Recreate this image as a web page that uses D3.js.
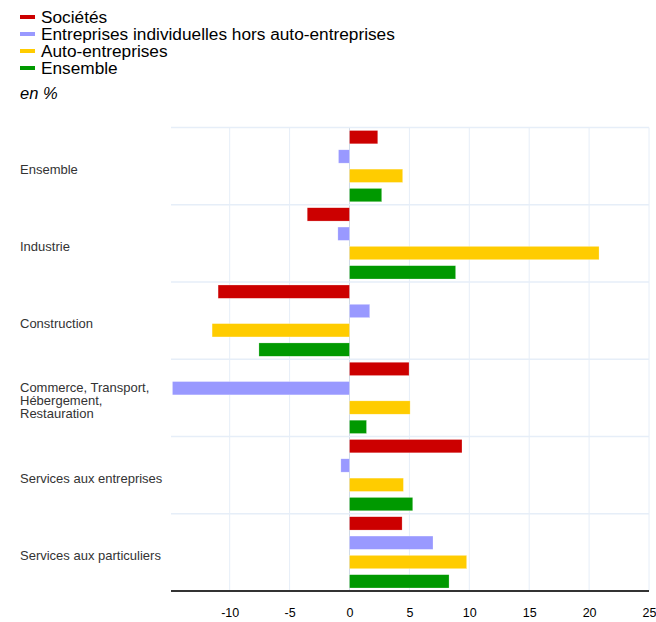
<!DOCTYPE html>
<html><head><meta charset="utf-8">
<script src="https://cdn.jsdelivr.net/npm/d3@7"></script>
<style>body{margin:0;background:#fff;font-family:"Liberation Sans",Arial,sans-serif;}</style>
</head><body>
<svg id="c" width="656" height="622"></svg>
<script>
const categories = [["Ensemble"],["Industrie"],["Construction"],["Commerce, Transport,","Hébergement,","Restauration"],["Services aux entreprises"],["Services aux particuliers"]];
const seriesNames = ["Sociétés","Entreprises individuelles hors auto-entreprises","Auto-entreprises","Ensemble"];
const seriesColors = ["#cc0000","#9999ff","#ffcc00","#009900"];
const societes = [2.36, -3.53, -10.97, 4.97, 9.39, 4.39];
const entIndiv = [-0.92, -0.97, 1.69, -14.78, -0.72, 6.97];
const autoEnt = [4.44, 20.83, -11.47, 5.06, 4.5, 9.78];
const ensemble = [2.69, 8.86, -7.56, 1.42, 5.28, 8.31];
const xTicks = [-10, -5, 0, 5, 10, 15, 20, 25];
const unitLabel = "en %";

const series = [societes, entIndiv, autoEnt, ensemble];
const svg = d3.select("#c");
const pL = 171, pR = 649, pT = 127.5, pB = 591;
const x = d3.scaleLinear().domain([-14.9, 25]).range([pL, pR]);
const y0 = d3.scaleBand().domain(d3.range(categories.length)).range([pT, pB]);
const y1 = d3.scaleBand().domain(d3.range(series.length)).range([0, y0.bandwidth()]).paddingInner(0.31).paddingOuter(0.155);

// legend
const leg = svg.append("g");
seriesNames.forEach((n, i) => {
  const yy = 17 + i * 17;
  leg.append("rect").attr("x", 20).attr("y", yy - 2).attr("width", 15).attr("height", 4).attr("fill", seriesColors[i]);
  leg.append("text").attr("x", 41).attr("y", yy + 6).attr("font-size", 17.25).attr("fill", "#000").text(n);
});
svg.append("text").attr("x", 20).attr("y", 99).attr("font-size", 16.5).attr("font-style", "italic").attr("fill", "#000").text(unitLabel);

// grid
const g = svg.append("g");
g.selectAll("line.v").data(xTicks).join("line")
  .attr("x1", d => x(d)).attr("x2", d => x(d)).attr("y1", pT).attr("y2", pB)
  .attr("stroke", d => d === 0 ? "#d0dae6" : "#e6eef8").attr("stroke-width", 1);
g.selectAll("line.h").data(d3.range(categories.length)).join("line")
  .attr("x1", pL).attr("x2", pR).attr("y1", d => y0(d)).attr("y2", d => y0(d))
  .attr("stroke", "#e6eef8").attr("stroke-width", 1.5);

// bars
series.forEach((vals, s) => {
  svg.append("g").selectAll("rect").data(vals).join("rect")
    .attr("x", d => x(Math.min(0, d)))
    .attr("width", d => Math.abs(x(d) - x(0)))
    .attr("y", (d, i) => y0(i) + y1(s))
    .attr("height", y1.bandwidth())
    .attr("fill", seriesColors[s])
    .attr("stroke", "#fff").attr("stroke-opacity", 0.5).attr("stroke-width", 0.5);
});

// bottom axis
const ax = svg.append("g").attr("transform", `translate(0,${pB})`)
  .call(d3.axisBottom(x).tickValues(xTicks).tickSize(0).tickPadding(17).tickFormat(d => String(d)));
ax.select(".domain").remove();
ax.selectAll("text").attr("font-size", 12.5).attr("fill", "#000").attr("font-family", "Liberation Sans, Arial, sans-serif");
svg.append("line").attr("x1", pL).attr("x2", pR).attr("y1", pB).attr("y2", pB).attr("stroke", "#333").attr("stroke-width", 2);

// category labels
categories.forEach((lines, i) => {
  const cy = y0(i) + y0.bandwidth() / 2;
  const lh = 13;
  const start = cy - (lines.length - 1) * lh / 2 + 7.5;
  const t = svg.append("text").attr("x", 20).attr("font-size", 13).attr("fill", "#333");
  lines.forEach((l, k) => t.append("tspan").attr("x", 20).attr("y", start + k * lh).text(l));
});
</script>
</body></html>
